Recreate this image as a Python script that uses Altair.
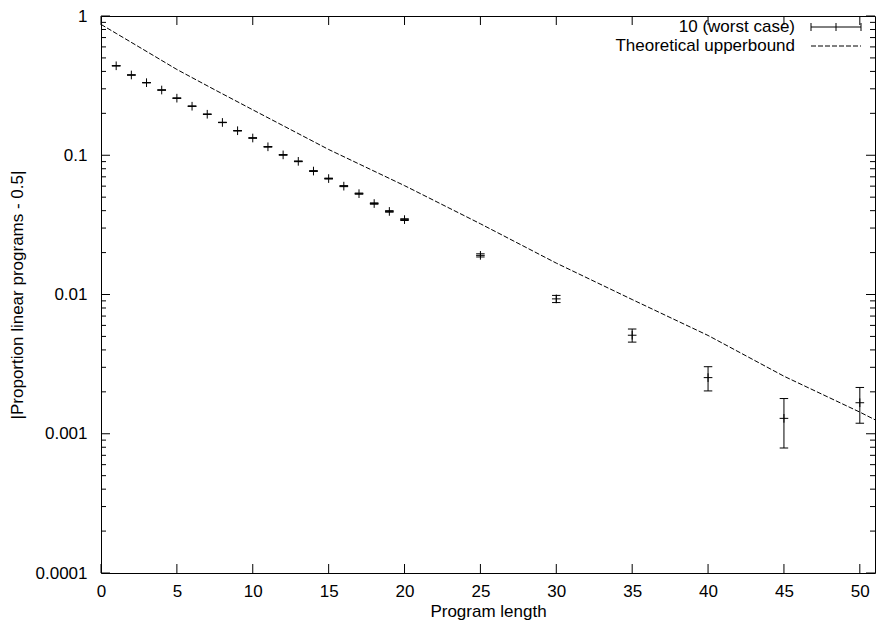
import altair as alt
import pandas as pd

# ---------------- data ----------------
lengths = [1, 2, 3, 4, 5, 6, 7, 8, 9, 10, 11, 12, 13, 14, 15, 16, 17, 18, 19, 20,
           25, 30, 35, 40, 45, 50]
means = [0.439, 0.377, 0.332, 0.294, 0.257, 0.225, 0.197, 0.172, 0.150, 0.133,
         0.115, 0.1006, 0.0904, 0.077, 0.068, 0.060, 0.053, 0.045, 0.0395, 0.0345,
         0.0191, 0.0093, 0.0051, 0.00253, 0.00129, 0.00167]
errors = [0.0005, 0.0005, 0.0005, 0.0005, 0.0005, 0.0005, 0.0005, 0.0005, 0.0005, 0.0005,
          0.0005, 0.0005, 0.0005, 0.0005, 0.0005, 0.0005, 0.0005, 0.0005, 0.0005, 0.0005,
          0.0005, 0.00055, 0.00055, 0.0005, 0.0005, 0.00048]

theory_x = [0, 1, 2.5, 5, 7.5, 10, 15, 20, 25, 30, 35, 40, 45, 50, 51]
theory_y = [0.87, 0.75, 0.60, 0.413, 0.295, 0.212, 0.11, 0.0605, 0.0322, 0.0168, 0.0092,
            0.00508, 0.00259, 0.00143, 0.00126]

x_ticks = [0, 5, 10, 15, 20, 25, 30, 35, 40, 45, 50]
y_major = [0.0001, 0.001, 0.01, 0.1, 1]
y_minor = [2e-4, 3e-4, 4e-4, 5e-4, 6e-4, 7e-4, 8e-4, 9e-4,
           2e-3, 3e-3, 4e-3, 5e-3, 6e-3, 7e-3, 8e-3, 9e-3,
           2e-2, 3e-2, 4e-2, 5e-2, 6e-2, 7e-2, 8e-2, 9e-2,
           2e-1, 3e-1, 4e-1, 5e-1, 6e-1, 7e-1, 8e-1, 9e-1]

series_label = "10 (worst case)"
theory_label = "Theoretical upperbound"
x_title = "Program length"
y_title = "|Proportion linear programs - 0.5|"

FONT = "Liberation Sans"
FS = 17
W, H = 774, 557
MAJ, MIN = 9, 5

# ---------------- frames ----------------
df = pd.DataFrame({"length": lengths, "mean": means, "err": errors})
df["lo"] = df["mean"] - df["err"]
df["hi"] = df["mean"] + df["err"]
theory = pd.DataFrame({"length": theory_x, "value": theory_y})
xt = pd.DataFrame({"t": x_ticks})
ymaj = pd.DataFrame({"v": y_major})
ymin = pd.DataFrame({"v": y_minor})
one = pd.DataFrame({"k": [0]})

xs = alt.Scale(domain=[0, 51], nice=False, zero=False)
ys = alt.Scale(type="log", domain=[0.0001, 1], nice=False)

x_axis = alt.Axis(values=x_ticks, title=x_title, grid=False, domain=False, ticks=False,
                  tickSize=0, labelPadding=10, labelFlush=False, labelOverlap=False,
                  titleY=43, titleBaseline="alphabetic")
y_axis = alt.Axis(values=y_major, title=y_title, format="~g", grid=False, domain=False,
                  ticks=False, tickSize=0, labelPadding=14, labelFlush=False,
                  labelOverlap=False, titleAngle=-90, titleX=-79, titleY=H / 2,
                  titleBaseline="alphabetic")

plus = "M-1,0L1,0M0,-1L0,1"
hbar = "M-1,0L1,0"


def X(field):
    return alt.X(field, scale=xs, axis=x_axis)


def Y(field):
    return alt.Y(field, scale=ys, axis=y_axis)


theory_line = alt.Chart(theory).mark_line(
    color="black", strokeWidth=1, strokeDash=[5, 2], clip=True
).encode(x=X("length:Q"), y=Y("value:Q"))

bars = alt.Chart(df).mark_rule(color="black", strokeWidth=1).encode(
    x=X("length:Q"), y=Y("lo:Q"), y2="hi:Q")
cap_lo = alt.Chart(df).mark_point(shape=hbar, size=72, filled=False, color="black",
                                  strokeWidth=1, opacity=1).encode(
    x=X("length:Q"), y=Y("lo:Q"))
cap_hi = alt.Chart(df).mark_point(shape=hbar, size=72, filled=False, color="black",
                                  strokeWidth=1, opacity=1).encode(
    x=X("length:Q"), y=Y("hi:Q"))
centers = alt.Chart(df).mark_point(shape=plus, size=75, filled=False, color="black",
                                   strokeWidth=1, opacity=1).encode(
    x=X("length:Q"), y=Y("mean:Q"))


# inward ticks on all four sides
def yticks(data, x0, x1):
    return alt.Chart(data).mark_rule(color="black", strokeWidth=1).encode(
        y=Y("v:Q"), x=alt.value(x0), x2=alt.value(x1))


def xticks(y0, y1):
    return alt.Chart(xt).mark_rule(color="black", strokeWidth=1).encode(
        x=X("t:Q"), y=alt.value(y0), y2=alt.value(y1))


tick_layers = [
    yticks(ymaj, 0, MAJ), yticks(ymin, 0, MIN),
    yticks(ymaj, W - MAJ, W), yticks(ymin, W - MIN, W),
    xticks(H - MAJ, H), xticks(0, MAJ),
]

# legend (top right, gnuplot style)
r1, r2 = 11, 30
tx, s0, s1 = 694, 710, 760
leg_text1 = alt.Chart(one).mark_text(align="right", baseline="middle", font=FONT,
                                     fontSize=FS, color="black", text=series_label).encode(
    x=alt.value(tx), y=alt.value(r1))
leg_text2 = alt.Chart(one).mark_text(align="right", baseline="middle", font=FONT,
                                     fontSize=FS, color="black", text=theory_label).encode(
    x=alt.value(tx), y=alt.value(r2))
leg_h = alt.Chart(one).mark_rule(color="black", strokeWidth=1).encode(
    x=alt.value(s0), x2=alt.value(s1), y=alt.value(r1))
leg_c0 = alt.Chart(one).mark_rule(color="black", strokeWidth=1).encode(
    x=alt.value(s0), y=alt.value(r1 - 4), y2=alt.value(r1 + 4))
leg_c1 = alt.Chart(one).mark_rule(color="black", strokeWidth=1).encode(
    x=alt.value(s1), y=alt.value(r1 - 4), y2=alt.value(r1 + 4))
leg_cm = alt.Chart(one).mark_rule(color="black", strokeWidth=1).encode(
    x=alt.value((s0 + s1) / 2), y=alt.value(r1 - 4), y2=alt.value(r1 + 4))
leg_d = alt.Chart(one).mark_rule(color="black", strokeWidth=1, strokeDash=[5, 2]).encode(
    x=alt.value(s0), x2=alt.value(s1), y=alt.value(r2))

chart = alt.layer(
    theory_line, bars, cap_lo, cap_hi, centers, *tick_layers,
    leg_text1, leg_text2, leg_h, leg_c0, leg_c1, leg_cm, leg_d,
).properties(
    width=W, height=H,
    padding={"left": 93, "top": 8, "right": 1, "bottom": 50},
    autosize=alt.AutoSizeParams(type="none"),
    background="white",
).configure_view(
    stroke="black", strokeWidth=1
).configure_axis(
    labelFont=FONT, labelFontSize=FS, labelColor="black",
    titleFont=FONT, titleFontSize=FS, titleColor="black", titleFontWeight="normal",
)

chart.save("out.html", embed_options={"renderer": "svg", "actions": False})
